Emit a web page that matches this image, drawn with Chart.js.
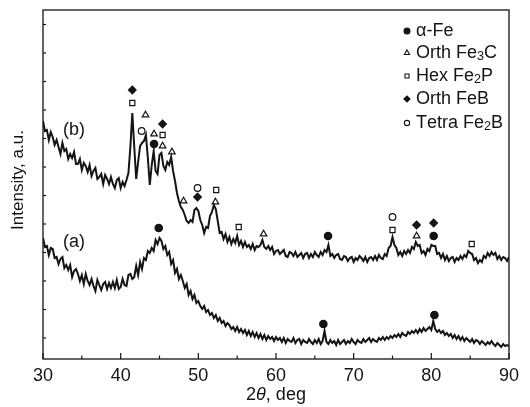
<!DOCTYPE html>
<html>
<head>
<meta charset="utf-8">
<script src="https://cdn.jsdelivr.net/npm/chart.js@4/dist/chart.umd.min.js"></script>
<style>
  html, body { margin: 0; padding: 0; background: #fff; }
  #wrap { width: 530px; height: 407px; }
</style>
</head>
<body>
<div id="wrap"><canvas id="xrdChart"></canvas></div>
<script>
// scan settings (2theta, deg)
const angleStart = 30;
const angleStep = 0.25;
const angleTicks = [30, 40, 50, 60, 70, 80, 90];

// pattern (b): intensity, a.u., four points per degree
const patternB = [
  238, 228, 229, 219,  227, 222, 214, 219,  212, 205, 216, 208,  210, 200, 205, 201,
  207, 195, 195, 200,  189, 196, 193, 187,  194, 183, 188, 191,  180, 182, 185, 175,
  184, 180, 175, 182,  175, 171, 179, 181,  171, 177, 173, 179,  186, 212, 246, 212,
  180, 197, 213, 216,  218, 224, 201, 174,  194, 208, 188, 185,  204, 206, 193, 189,
  197, 194, 202, 188,  178, 166, 158, 152,  149, 144, 138, 136,  139, 137, 149, 151,
  148, 139, 134, 126,  132, 131, 143, 147,  154, 150, 138, 126,  127, 120, 125, 117,
  122, 115, 120, 116,  123, 114, 118, 112,  117, 112, 114, 110,  115, 109, 113, 112,
  114, 119, 112, 110,  113, 109, 112, 105,  108, 109, 105, 107,  109, 103, 102, 107,
  106, 103, 107, 102,  104, 106, 101, 105,  106, 101, 105, 102,  107, 104, 102, 107,
  104, 109, 107, 114,  103, 105, 101, 104,  105, 100, 99, 103,   102, 98, 101, 102,
  97, 101, 99, 103,    101, 98, 102, 97,    101, 102, 99, 103,   99, 104, 101, 100,
  105, 103, 111, 113,  122, 114, 111, 104,  107, 103, 108, 105,  109, 106, 112, 110,
  117, 113, 114, 106,  108, 104, 110, 108,  114, 113, 113, 105,  106, 101, 105, 99,
  103, 98, 101, 102,   97, 101, 99, 103,    100, 104, 102, 108,  106, 105, 99, 101,
  96, 99, 97, 103,     101, 106, 103, 107,  104, 106, 100, 103,  99, 102, 101, 98,
  102
];

// pattern (a)
const patternA = [
  121, 112, 113, 104,  111, 110, 101, 102,  95, 100, 102, 91,    94, 89, 94, 82,
  88, 90, 85, 78,      84, 75, 85, 78,      74, 80, 73, 68,      79, 74, 69, 75,
  77, 70, 76, 71,      77, 71, 79, 70,      72, 80, 74, 73,      84, 85, 80, 82,
  93, 84, 97, 90,      101, 99, 108, 106,   111, 108, 119, 115,  121, 118, 110, 113,
  104, 107, 95, 99,    86, 90, 80, 84,      78, 71, 75, 64,      68, 60, 64, 56,
  58, 53, 50, 53,      47, 49, 44, 46,      41, 44, 38, 41,      36, 38, 33, 36,
  34, 30, 32, 28,      32, 27, 30, 26,      29, 24, 28, 23,      27, 22, 26, 21,
  25, 20, 24, 19,      23, 20, 22, 18,      22, 19, 21, 17,      21, 16, 20, 18,
  17, 21, 16, 19,      20, 15, 19, 17,      16, 20, 17, 15,      19, 16, 20, 15,
  18, 28, 17, 15,      19, 16, 18, 14,      19, 15, 17, 19,      15, 18, 16, 20,
  17, 15, 19, 17,      16, 20, 17, 19,      21, 17, 20, 18,      17, 21, 19, 22,
  19, 22, 20, 23,      21, 24, 22, 25,      22, 26, 24, 23,      27, 25, 28, 26,
  29, 26, 30, 27,      31, 28, 30, 32,      29, 38, 30, 27,      29, 26, 28, 24,
  26, 23, 25, 21,      24, 20, 23, 19,      22, 18, 21, 19,      17, 20, 16, 19,
  18, 15, 18, 16,      14, 17, 15, 18,      15, 13, 16, 14,      12, 15, 13, 14,
  13
];

// phase markers above the peaks: [2theta, height]
const phaseNames = ['α-Fe', 'Orth Fe₃C', 'Hex Fe₂P', 'Orth FeB', 'Tetra Fe₂B'];
const alphaFeMarks = [[44.9, 131], [66.1, 35], [80.4, 44], [44.3, 215], [66.7, 123], [80.3, 123]];
const fe3cMarks = [[43.2, 244], [44.3, 225], [45.4, 213], [46.6, 207], [48.1, 158], [52.2, 157], [58.4, 125], [78.1, 123]];
const fe2pMarks = [[41.5, 256], [45.4, 224], [52.3, 169], [55.2, 132], [75.0, 129], [85.2, 115]];
const febMarks = [[41.5, 269], [45.4, 235], [49.9, 162], [78.1, 134], [80.3, 136]];
const fe2bMarks = [[42.7, 228], [49.9, 171], [75.0, 142]];

const toXY = (arr) => arr.map((v, i) => ({ x: angleStart + i * angleStep, y: v }));
const markXY = (arr) => arr.map(p => ({ x: p[0], y: p[1] }));

const ink = '#141414';
const fontFam = '"Liberation Sans", Arial, Helvetica, sans-serif';

const markerSets = [
  { label: phaseNames[0], data: markXY(alphaFeMarks), pointStyle: 'circle', radius: 3.7, fill: true },
  { label: phaseNames[1], data: markXY(fe3cMarks), pointStyle: 'triangle', radius: 3.8, fill: false },
  { label: phaseNames[2], data: markXY(fe2pMarks), pointStyle: 'rect', radius: 3.6, fill: false },
  { label: phaseNames[3], data: markXY(febMarks), pointStyle: 'rectRot', radius: 3.8, fill: true },
  { label: phaseNames[4], data: markXY(fe2bMarks), pointStyle: 'circle', radius: 3.3, fill: false }
];

const datasets = [
  { label: '(b)', data: toXY(patternB), showLine: true, pointRadius: 0, borderColor: ink, borderWidth: 2, tension: 0 },
  { label: '(a)', data: toXY(patternA), showLine: true, pointRadius: 0, borderColor: ink, borderWidth: 2, tension: 0 }
];
markerSets.forEach(m => {
  datasets.push({
    label: m.label,
    data: m.data,
    showLine: false,
    pointStyle: m.pointStyle,
    pointRadius: m.radius,
    pointBorderWidth: 1.2,
    pointBorderColor: ink,
    pointBackgroundColor: m.fill ? ink : '#fff'
  });
});

// text with unicode subscripts drawn lowered and smaller
function drawRichText(ctx, text, x, y, size) {
  const subs = '₀₁₂₃₄₅₆₇₈₉';
  let cx = x;
  for (const ch of text) {
    const k = subs.indexOf(ch);
    if (k >= 0) {
      ctx.font = (size * 0.7) + 'px ' + fontFam;
      ctx.fillText(String(k), cx, y + size * 0.22);
      cx += ctx.measureText(String(k)).width;
    } else {
      ctx.font = size + 'px ' + fontFam;
      ctx.fillText(ch, cx, y);
      cx += ctx.measureText(ch).width;
    }
  }
}

const decorPlugin = {
  id: 'decor',
  afterDraw(chart) {
    const { ctx, chartArea: a, scales } = chart;
    const xs = scales.x, ys = scales.y;
    ctx.save();
    ctx.strokeStyle = ink;
    ctx.fillStyle = ink;

    // frame
    ctx.lineWidth = 1.3;
    ctx.strokeRect(a.left, a.top, a.right - a.left, a.bottom - a.top);

    // inward ticks
    ctx.lineWidth = 1.2;
    for (let v = 30; v <= 90; v += 5) {
      const px = xs.getPixelForValue(v);
      const len = v % 10 === 0 ? 6 : 3.5;
      ctx.beginPath();
      ctx.moveTo(px, a.bottom);
      ctx.lineTo(px, a.bottom - len);
      ctx.stroke();
    }
    ys.ticks.forEach(t => {
      const py = ys.getPixelForValue(t.value);
      ctx.beginPath();
      ctx.moveTo(a.left, py);
      ctx.lineTo(a.left + 3, py);
      ctx.stroke();
    });

    // x title: 2θ, deg
    const ty = 395;
    ctx.textBaseline = 'middle';
    ctx.textAlign = 'left';
    const fN = '18px ' + fontFam, fI = 'italic 18px ' + fontFam;
    ctx.font = fN; const w1 = ctx.measureText('2').width;
    ctx.font = fI; const w2 = ctx.measureText('θ').width;
    ctx.font = fN; const w3 = ctx.measureText(', deg').width;
    const sx = (a.left + a.right) / 2 - (w1 + w2 + w3) / 2;
    ctx.font = fN; ctx.fillText('2', sx, ty);
    ctx.font = fI; ctx.fillText('θ', sx + w1, ty);
    ctx.font = fN; ctx.fillText(', deg', sx + w1 + w2, ty);

    // y title
    ctx.save();
    ctx.translate(18, 180);
    ctx.rotate(-Math.PI / 2);
    ctx.textAlign = 'center';
    ctx.font = '17px ' + fontFam;
    ctx.fillText('Intensity, a.u.', 0, 0);
    ctx.restore();

    // curve labels
    ctx.font = '18px ' + fontFam;
    ctx.textAlign = 'center';
    ctx.fillText('(b)', 74, 130);
    ctx.fillText('(a)', 74, 242);

    // legend
    const rowY = [31, 53, 76, 99, 123];
    ctx.textAlign = 'left';
    markerSets.forEach((m, i) => {
      ctx.fillStyle = m.fill ? ink : '#fff';
      ctx.strokeStyle = ink;
      ctx.lineWidth = 1.1;
      Chart.helpers.drawPoint(ctx, {
        pointStyle: m.pointStyle,
        radius: m.radius * 0.8,
        borderWidth: 1.1
      }, 407, rowY[i]);
      ctx.fillStyle = ink;
      drawRichText(ctx, m.label, 416, rowY[i], 18);
    });
    ctx.restore();
  }
};

new Chart(document.getElementById('xrdChart'), {
  type: 'scatter',
  data: { datasets },
  options: {
    responsive: true,
    maintainAspectRatio: false,
    animation: false,
    layout: { padding: { top: 10, right: 21, left: 0, bottom: 0 } },
    plugins: { legend: { display: false }, tooltip: { enabled: false } },
    scales: {
      x: {
        type: 'linear',
        min: 30, max: 90,
        afterBuildTicks: (s) => { s.ticks = angleTicks.map(v => ({ value: v })); },
        afterFit: (s) => { s.height = 48; },
        grid: { display: false, drawTicks: false },
        border: { display: false },
        ticks: { color: ink, font: { size: 18, family: fontFam }, padding: 6, maxRotation: 0, autoSkip: false }
      },
      y: {
        min: 0, max: 349,
        afterBuildTicks: (s) => {
          const t = [];
          for (let v = 21; v < 349; v += 28.5) t.push({ value: v });
          s.ticks = t;
        },
        afterFit: (s) => { s.width = 43; },
        grid: { display: false, drawTicks: false },
        border: { display: false },
        ticks: { display: false }
      }
    }
  },
  plugins: [decorPlugin]
});
</script>
</body>
</html>
